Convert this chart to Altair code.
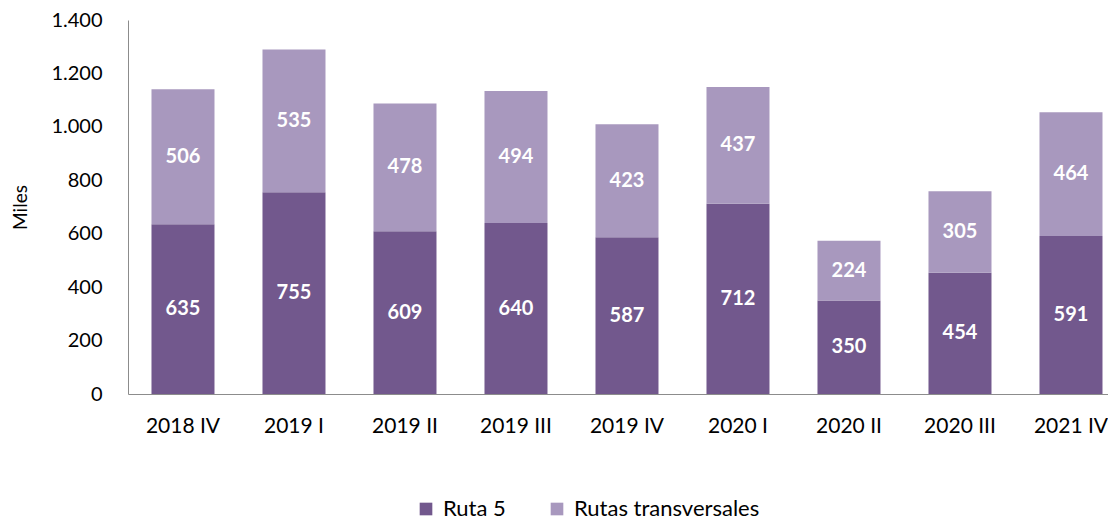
import altair as alt
import pandas as pd

periods = ["2018 IV", "2019 I", "2019 II", "2019 III", "2019 IV", "2020 I", "2020 II", "2020 III", "2021 IV"]
ruta5 = [635, 755, 609, 640, 587, 712, 350, 454, 591]
transversales = [506, 535, 478, 494, 423, 437, 224, 305, 464]
series = ["Ruta 5", "Rutas transversales"]
colors = ["#72588D", "#A898BE"]

rows = []
for p, a, b in zip(periods, ruta5, transversales):
    rows.append({"periodo": p, "serie": series[0], "valor": a, "orden": 0, "mid": a / 2})
    rows.append({"periodo": p, "serie": series[1], "valor": b, "orden": 1, "mid": a + b / 2})
df = pd.DataFrame(rows)

FONT = "Lato"

xscale = alt.Scale(domain=periods, paddingInner=0.4324, paddingOuter=0.1306, align=0.81)
yscale = alt.Scale(domain=[0, 1400])

x = alt.X("periodo:N", scale=xscale, sort=periods, title=None,
          axis=alt.Axis(labelAngle=0, ticks=False, labelPadding=21, domainColor="#8c8c8c",
                        labelFontSize=21, labelColor="#000000", labelFont=FONT))

bars = alt.Chart(df).mark_bar().encode(
    x=x,
    y=alt.Y("valor:Q", stack="zero", scale=yscale, title="Miles",
            axis=alt.Axis(values=[0, 200, 400, 600, 800, 1000, 1200, 1400], grid=False, ticks=False,
                          domainColor="#8c8c8c", labelPadding=26, labelFontSize=20,
                          labelColor="#000000", labelFont=FONT,
                          labelExpr="replace(format(datum.value, ',d'), ',', '.')",
                          titleFont=FONT, titleFontSize=19, titleFontWeight="normal",
                          titleColor="#000000", titlePadding=20)),
    color=alt.Color("serie:N", scale=alt.Scale(domain=series, range=colors),
                    legend=alt.Legend(title=None, orient="none", direction="horizontal",
                                      legendX=287, legendY=478, symbolType="square",
                                      symbolSize=160, symbolStrokeWidth=0, labelFontSize=22,
                                      labelFont=FONT, labelColor="#000000", columnPadding=40,
                                      labelOffset=6, labelLimit=400)),
    order=alt.Order("orden:Q"),
)

labels = alt.Chart(df).mark_text(color="white", fontWeight="bold", fontSize=20, font=FONT,
                                  baseline="middle").encode(
    x=alt.X("periodo:N", scale=xscale, sort=periods),
    y=alt.Y("mid:Q", scale=yscale),
    text=alt.Text("valor:Q"),
)

chart = (bars + labels).properties(
    width=980, height=374,
    autosize=alt.AutoSizeParams(type="none"),
    padding={"left": 120, "top": 12, "right": 0, "bottom": 129},
).configure_view(stroke=None)

chart.save("out.html", embed_options={"renderer": "svg", "actions": False})
